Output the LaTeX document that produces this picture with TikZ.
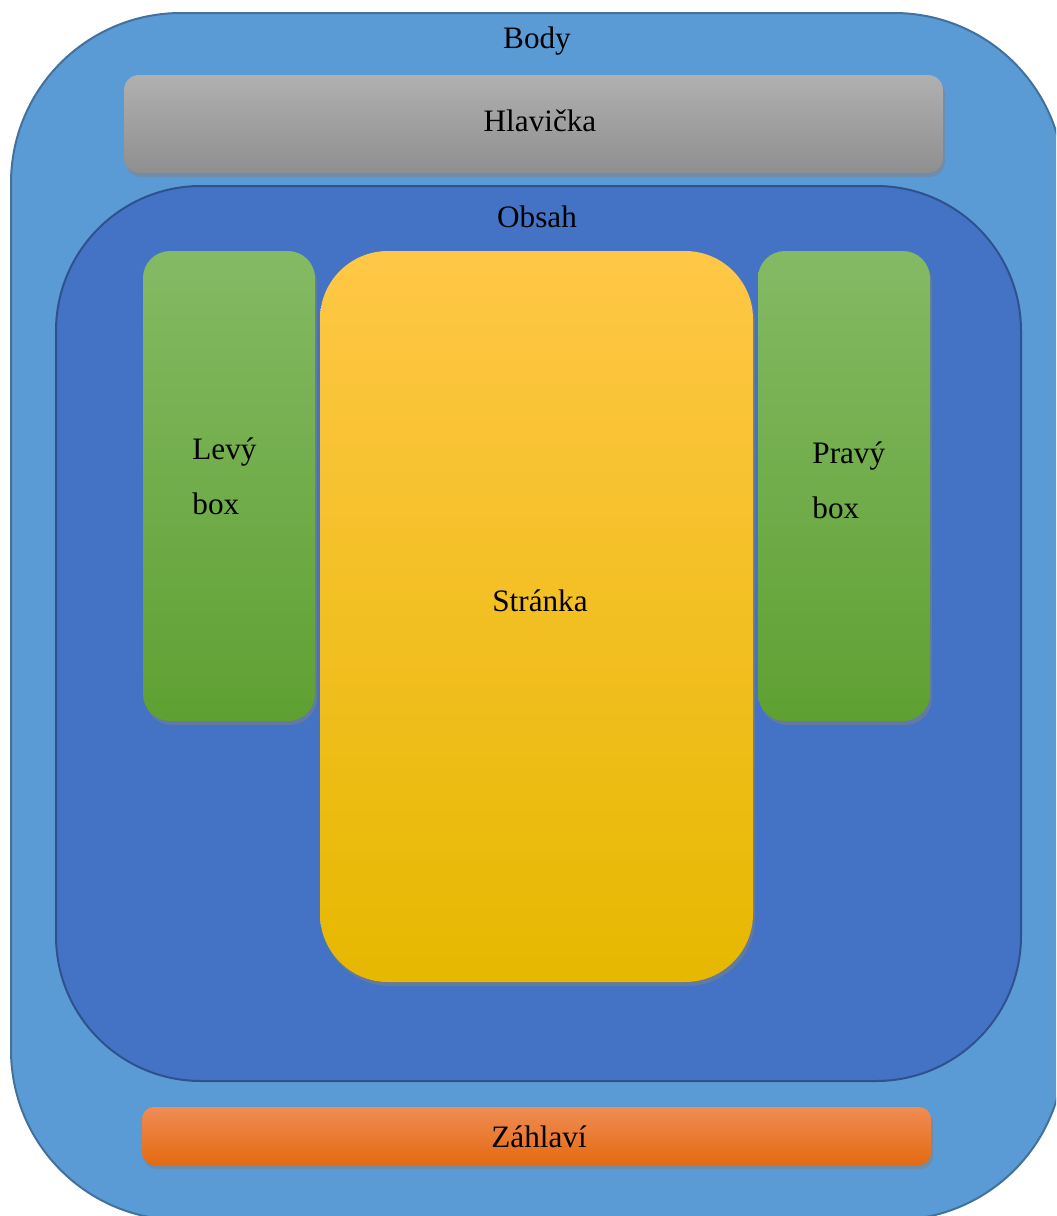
\documentclass[tikz,border=0pt]{standalone}
\usepackage{fontspec}
\setmainfont{Liberation Serif}
\usetikzlibrary{shadows}

\definecolor{bodyfill}{HTML}{5B9BD5}
\definecolor{bodyline}{HTML}{41719C}
\definecolor{obsahfill}{HTML}{4472C4}
\definecolor{obsahline}{HTML}{2F528F}

\tikzset{
  part/.style={rectangle, inner sep=0pt, drop shadow={opacity=0.5, shadow xshift=1pt, shadow yshift=-2pt}},
  caption/.style={font=\fontsize{15.6}{27.5}\selectfont, inner sep=0pt, anchor=base},
  gray part/.style={part, top color=black!31, bottom color=black!44},
  green part/.style={part, top color={rgb,255:red,132;green,186;blue,100}, middle color={rgb,255:red,112;green,173;blue,71}, bottom color={rgb,255:red,95;green,160;blue,50}},
  yellow part/.style={part, top color={rgb,255:red,255;green,199;blue,70}, middle color={rgb,255:red,255;green,195;blue,0}, bottom color={rgb,255:red,230;green,184;blue,0}},
  orange part/.style={part, top color={rgb,255:red,240;green,140;blue,85}, middle color={rgb,255:red,245;green,127;blue,42}, bottom color={rgb,255:red,227;green,106;blue,16}},
}

\begin{document}
\begin{tikzpicture}[x=0.5pt,y=-0.5pt]

\useasboundingbox (0,0) rectangle (1056,1216);
\clip (0,0) rectangle (1056,1216);

%draw body
\node[rectangle, inner sep=0pt, rounded corners=85pt, fill=bodyfill, draw=bodyline, line width=1pt,
      minimum width=526.5pt, minimum height=603.5pt] (body) at (537.5,616.5) {};
\node[caption] (bodytext) at (537,48) {Body};

%draw header
\node[gray part, rounded corners=7.5pt, minimum width=409.5pt, minimum height=49pt] (hlavicka) at (533.5,124) {};
\node[caption] (hlavickatext) at (540,131) {Hlavička};

%draw content area
\node[rectangle, inner sep=0pt, rounded corners=72.5pt, fill=obsahfill, draw=obsahline, line width=1pt,
      minimum width=482.5pt, minimum height=447.5pt] (obsah) at (538.5,633.5) {};
\node[caption] (obsahtext) at (537,227) {Obsah};

%draw side boxes
\foreach \name/\x/\tx/\ty/\txt in {levy/229/192/514/Levý, pravy/844/812/518/Pravý}
    {
    \node[green part, rounded corners=13.5pt, minimum width=86pt, minimum height=235pt] (\name) at (\x,486) {};
    \node[caption, anchor=base west, align=left] (\name text) at (\tx,\ty) {\txt\\box};
    }

%draw page
\node[yellow part, rounded corners=34pt, minimum width=216.5pt, minimum height=365.5pt] (stranka) at (536.5,616.5) {};
\node[caption] (strankatext) at (540,611) {Stránka};

%draw footer
\node[orange part, rounded corners=6pt, minimum width=394.5pt, minimum height=29pt] (zahlavi) at (536.5,1136) {};
\node[caption] (zahlavitext) at (539,1147) {Záhlaví};

\end{tikzpicture}
\end{document}
